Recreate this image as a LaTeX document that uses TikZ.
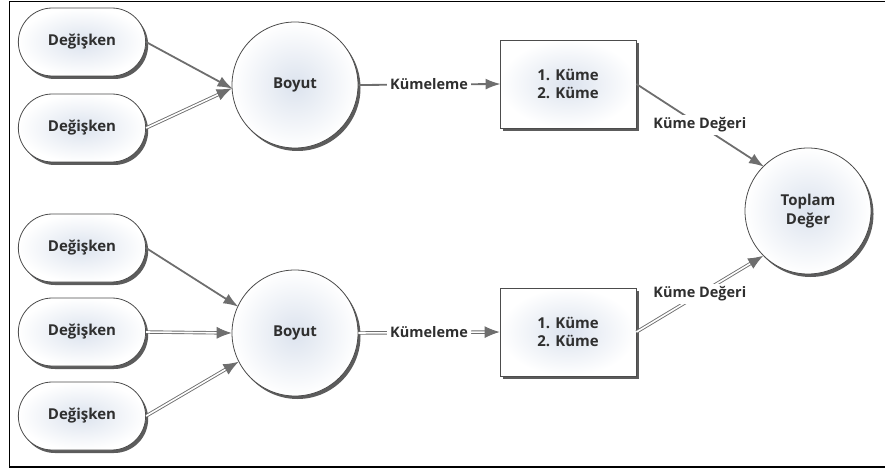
\documentclass[tikz,border=0pt]{standalone}
\usepackage{fontspec}
\setmainfont{Open Sans}
\usetikzlibrary{arrows.meta,shapes.misc,shadows}
\definecolor{txt}{HTML}{2F2F2F}
\definecolor{edge}{HTML}{6E6E6E}
\definecolor{inner}{HTML}{DCE3EE}
\tikzset{
  nodebase/.style={draw=black!70, line width=0.8pt, inner color=inner, outer color=white,
    font=\bfseries\fontsize{15}{18.5}\selectfont, text=txt, align=center,
    drop shadow={shadow xshift=2.5pt, shadow yshift=-3pt, opacity=0.75, fill=black!85}},
  varbox/.style={nodebase, rounded rectangle, minimum width=134pt, minimum height=68pt},
  dimcircle/.style={nodebase, circle, minimum size=126pt, inner sep=0pt},
  clusterbox/.style={nodebase, rectangle, minimum width=136pt, minimum height=88pt},
  single/.style={draw=edge, line width=1.8pt, -{Latex[length=15pt,width=11pt]}, shorten >=-1pt},
  dbl/.style={draw=edge, line width=0.9pt, double=white, double distance=1.6pt, -{Latex[length=15pt,width=12pt]}},
  lbl/.style={fill=white, inner sep=3pt, font=\bfseries\fontsize{14.5}{18}\selectfont, text=txt}
}
\begin{document}
\begin{tikzpicture}[x=1pt,y=-1pt]
\useasboundingbox (0,0) rectangle (885,470);
\draw[black, line width=1.2pt] (886,1.5) -- (9.5,1.5) -- (9.5,467) -- (886,467);

\node[varbox] (v1) at (82,42) {Değişken};
\node[varbox] (v2) at (82,128) {Değişken};
\node[varbox] (v3) at (82,248) {Değişken};
\node[varbox] (v4) at (82,332) {Değişken};
\node[varbox] (v5) at (82,416) {Değişken};

\node[dimcircle] (b1) at (295,85) {Boyut};
\node[dimcircle] (b2) at (295,333) {Boyut};

\node[clusterbox] (k1) at (568,84) {1. Küme\\2. Küme};
\node[clusterbox] (k2) at (568,332) {1. Küme\\2. Küme};

\node[dimcircle] (t) at (808,211) {Toplam\\Değer};

\draw[single] (v1.east) -- (b1.183);
\draw[dbl] (v2.east) -- (b1.183);
\draw[single] (v3.east) -- (b2.155);
\draw[dbl] (v4.east) -- (b2.west);
\draw[dbl] (v5.east) -- (b2.207);

\draw[single] (b1.east) -- node[lbl] {Kümeleme} (k1.west);
\draw[dbl] (b2.east) -- node[lbl] {Kümeleme} (k2.west);

\draw[single] (k1.east) -- node[lbl] {Küme Değeri} (t.135);
\draw[dbl] (k2.east) -- node[lbl] {Küme Değeri} (t.225);
\end{tikzpicture}
\end{document}
